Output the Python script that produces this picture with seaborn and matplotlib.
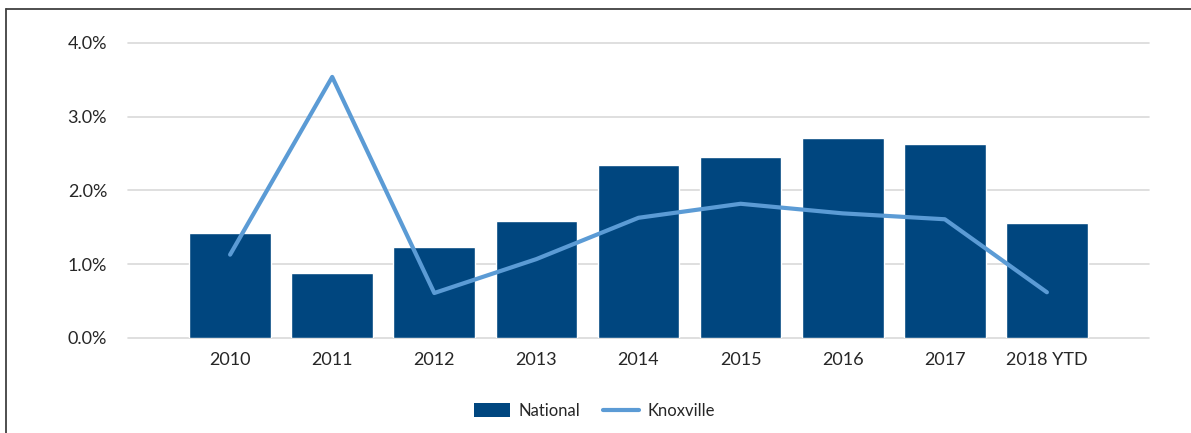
import numpy as np
import matplotlib
matplotlib.use("Agg")
import matplotlib.pyplot as plt
import seaborn as sns
from matplotlib.lines import Line2D
from matplotlib.patches import Patch
from matplotlib.ticker import FuncFormatter, MultipleLocator

categories = ["2010", "2011", "2012", "2013", "2014", "2015", "2016", "2017", "2018 YTD"]
national = [1.42, 0.88, 1.24, 1.58, 2.34, 2.46, 2.71, 2.63, 1.56]
knoxville = [1.13, 3.54, 0.61, 1.07, 1.63, 1.82, 1.69, 1.61, 0.62]

bar_color = "#00467F"
line_color = "#5B9BD5"
text_color = "#262626"

sns.set_theme(style="white")
plt.rcParams["font.family"] = ["Lato", "DejaVu Sans"]

fig = plt.figure(figsize=(11.91, 4.33), dpi=100)
ax = fig.add_axes([128/1191, 1-338/433, (1149-128)/1191, (338-43)/433])

sns.barplot(x=categories, y=national, color=bar_color, width=0.8, saturation=1, ax=ax, zorder=2)
sns.lineplot(x=np.arange(len(categories)), y=knoxville, color=line_color, linewidth=3, ax=ax, zorder=3)

ax.set_xlim(-1.0, 9.0)
ax.set_ylim(0, 4.0)
ax.yaxis.set_major_locator(MultipleLocator(1.0))
ax.yaxis.set_major_formatter(FuncFormatter(lambda v, p: f"{v:.1f}%"))
ax.grid(axis="y", color="#D9D9D9", linewidth=1.2, zorder=0)
ax.set_axisbelow(True)
for s in ax.spines.values():
    s.set_visible(False)
ax.tick_params(axis="both", length=0, labelsize=13, colors=text_color)
ax.tick_params(axis="y", pad=15)
ax.tick_params(axis="x", pad=10)
for gl in ax.get_ygridlines():
    gl.set_clip_on(False)

handles = [Patch(facecolor=bar_color, edgecolor="none", label="National"),
           Line2D([0], [0], color=line_color, linewidth=3, label="Knoxville")]
fig.legend(handles=handles, loc="center", bbox_to_anchor=(0.499, 1-411/433), ncol=2,
           frameon=False, fontsize=12, handlelength=2.15, handleheight=0.95,
           columnspacing=1.4, handletextpad=0.5, labelcolor=text_color)

# figure border (top and left)
fig.add_artist(Line2D([6/1191, 1], [1-9/433, 1-9/433], transform=fig.transFigure, color="#404040", linewidth=1.3))
fig.add_artist(Line2D([6/1191, 6/1191], [0, 1-9/433], transform=fig.transFigure, color="#404040", linewidth=1.3))

fig.savefig("out.png", dpi=100)
